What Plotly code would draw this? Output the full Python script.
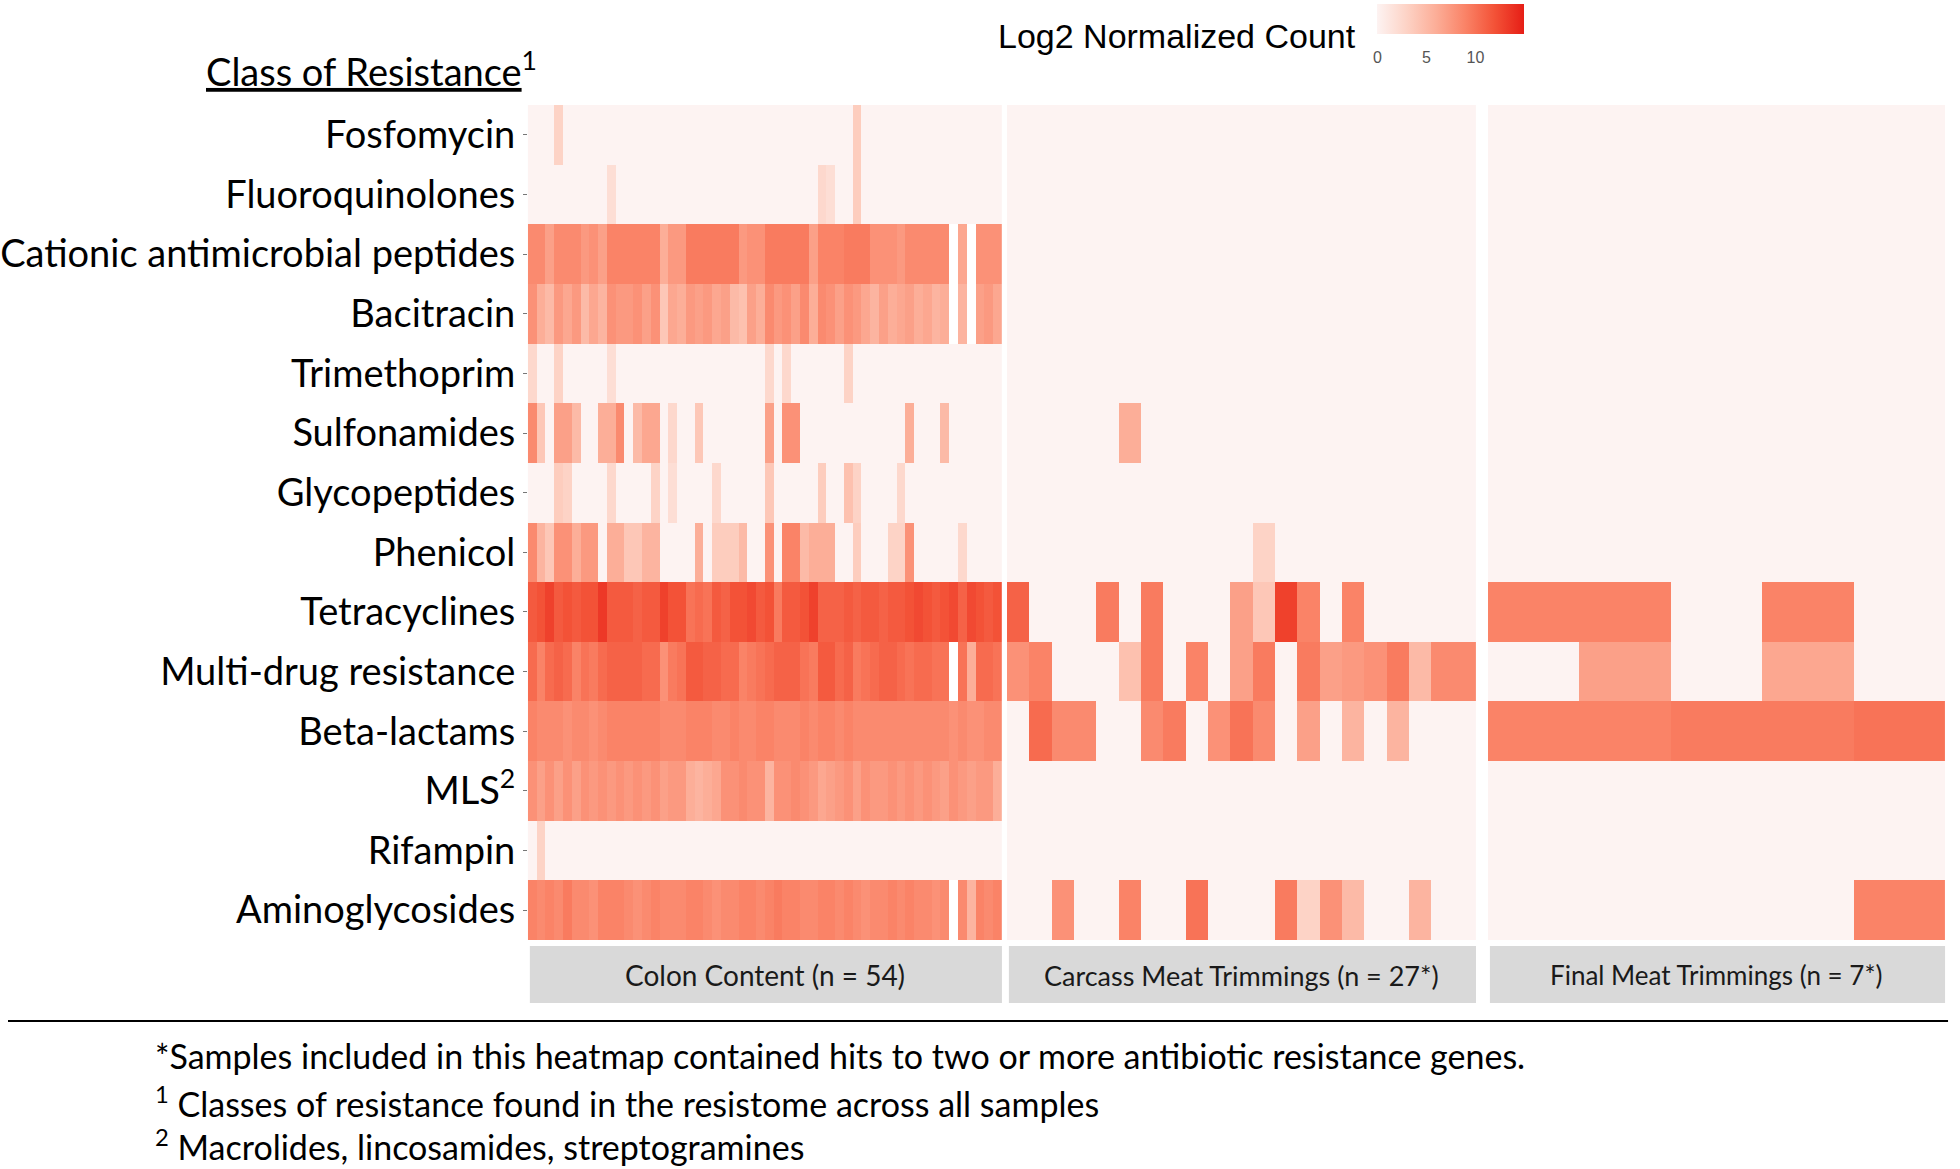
import plotly.graph_objects as go

W, H = 1960, 1169

classes = ["Fosfomycin", "Fluoroquinolones", "Cationic antimicrobial peptides", "Bacitracin",
           "Trimethoprim", "Sulfonamides", "Glycopeptides", "Phenicol", "Tetracyclines",
           "Multi-drug resistance", "Beta-lactams", "MLS", "Rifampin", "Aminoglycosides"]
class_labels = [c if c != "MLS" else "MLS<sup>2</sup>" for c in classes]

panels = ["Colon Content (n = 54)", "Carcass Meat Trimmings (n = 27*)", "Final Meat Trimmings (n = 7*)"]

N = None
# log2 normalized counts, one row per class (same order as classes), one column per sample
colon_counts = [
    [0, 0, 0, 3, 0, 0, 0, 0, 0, 0, 0, 0, 0, 0, 0, 0, 0, 0, 0, 0, 0, 0, 0, 0, 0, 0, 0, 0, 0, 0, 0, 0, 0, 0, 0, 0, 0, 3.5, 0, 0, 0, 0, 0, 0, 0, 0, 0, 0, 0, 0, 0, 0, 0, 0],
    [0, 0, 0, 0, 0, 0, 0, 0, 0, 2, 0, 0, 0, 0, 0, 0, 0, 0, 0, 0, 0, 0, 0, 0, 0, 0, 0, 0, 0, 0, 0, 0, 0, 2.5, 2, 0, 0, 3.5, 0, 0, 0, 0, 0, 0, 0, 0, 0, 0, 0, 0, 0, 0, 0, 0],
    [8.5, 8.5, 7, 8.5, 8.5, 8.5, 7.5, 8, 7, 9, 9, 9, 9, 9, 9, 6, 7.5, 7.5, 9.5, 9.5, 9.5, 9.5, 9.5, 9.5, 7.5, 8, 8, 9.5, 9.5, 9.5, 9.5, 9.5, 7, 9, 9, 9, 9.5, 9.5, 9.5, 8, 8, 8, 7.5, 8.5, 8.5, 8.5, 8.5, 8.5, N, 6.5, N, 8, 8, 8],
    [8, 6, 5, 7.5, 6.5, 7.5, 5, 6.5, 5.5, 8, 7.5, 7.5, 8, 7, 8, 4, 6.5, 6, 7.5, 7, 7.5, 6.5, 7, 5, 4.5, 7, 6, 8.5, 7.5, 8, 7, 8.5, 6, 8.5, 8, 7, 8, 7.5, 6.5, 5.5, 7, 6, 6.5, 7, 6, 6.5, 5.5, 6, N, 5.5, N, 7, 7.5, 6.5],
    [2.5, 0, 0, 3, 0, 0, 0, 0, 0, 2, 0, 0, 0, 0, 0, 0, 0, 0, 0, 0, 0, 0, 0, 0, 0, 0, 0, 2.5, 0, 2.5, 0, 0, 0, 0, 0, 0, 3, 0, 0, 0, 0, 0, 0, 0, 0, 0, 0, 0, 0, 0, 0, 0, 0, 0],
    [8.5, 4, 0, 7, 7, 5, 0, 0, 6, 6, 8.5, 0, 5, 6.5, 6.5, 0, 2.5, 0, 0, 4, 0, 0, 0, 0, 0, 0, 0, 7, 0, 8, 8, 0, 0, 0, 0, 0, 0, 0, 0, 0, 0, 0, 0, 6, 0, 0, 0, 5, 0, 0, 0, 0, 0, 0],
    [0, 0, 0, 3.5, 3, 0, 0, 0, 0, 2.5, 0, 0, 0, 0, 3, 0, 2, 0, 0, 0, 0, 2.5, 0, 0, 0, 0, 0, 4, 0, 0, 0, 0, 0, 3.5, 0, 0, 4.5, 3, 0, 0, 0, 0, 2.5, 0, 0, 0, 0, 0, 0, 0, 0, 0, 0, 0],
    [8.5, 5.5, 4, 8, 8, 6, 7.5, 7.5, 0, 6, 6, 4, 4, 5.5, 5.5, 0, 0, 0, 0, 6, 0, 3.5, 3.5, 3.5, 5, 0, 0, 8, 0, 9, 9, 5, 6, 6, 6, 0, 0, 3.5, 0, 0, 0, 3, 3, 8, 0, 0, 0, 0, 0, 2.5, 0, 0, 0, 0],
    [11.5, 12, 13, 11.5, 12, 11.5, 12, 12, 13.5, 11.5, 11.5, 11.5, 11, 11.5, 11.5, 13, 12, 12, 10, 10.5, 10, 11.5, 11, 12, 12, 12.5, 11.5, 12, 9.5, 11.5, 11.5, 12, 13, 11, 11, 11, 11.5, 11, 11.5, 11.5, 11, 11.5, 11.5, 12, 12.5, 12, 11.5, 12, 12.5, 11, 12.5, 12, 11.5, 12],
    [10.5, 9, 10.5, 11, 10.5, 9, 10, 9.5, 10.5, 11, 11, 11, 11, 10.5, 10.5, 8, 9.5, 10, 11.5, 11.5, 11, 11, 10.5, 10.5, 9, 9.5, 10, 10.5, 11, 11, 11, 10, 9.5, 11.5, 11.5, 10.5, 11, 9.5, 10, 10.5, 11, 11, 10.5, 10, 10.5, 10.5, 10, 10, N, 10, 6, 10.5, 10.5, 10],
    [9, 8.5, 8.5, 8.5, 8, 8.5, 8.5, 8, 8.5, 9, 9, 9, 9, 9, 9, 8.5, 8.5, 8.5, 9, 9, 9, 8.5, 8.5, 9, 8.5, 8.5, 9, 9, 8.5, 8.5, 8.5, 9, 8.5, 9, 9, 8.5, 9, 8.5, 8.5, 8.5, 8.5, 8.5, 8.5, 8.5, 8.5, 8.5, 8.5, 8.5, 8, 8.5, 8, 8, 8.5, 8.5],
    [8, 7, 8, 7, 8, 7, 8, 7.5, 8, 7.5, 8, 7.5, 8, 7.5, 8, 7, 7.5, 7.5, 6, 5.5, 6, 6.5, 8, 8, 8.5, 8, 8, 5.5, 8, 8, 8.5, 8, 7.5, 6.5, 7, 7.5, 8, 7, 8, 7.5, 7.5, 8, 7.5, 8, 7.5, 8, 7.5, 7, 8, 7.5, 7, 7.5, 7.5, 6],
    [0, 3, 0, 0, 0, 0, 0, 0, 0, 0, 0, 0, 0, 0, 0, 0, 0, 0, 0, 0, 0, 0, 0, 0, 0, 0, 0, 0, 0, 0, 0, 0, 0, 0, 0, 0, 0, 0, 0, 0, 0, 0, 0, 0, 0, 0, 0, 0, 0, 0, 0, 0, 0, 0],
    [9, 8.5, 9, 8.5, 9.5, 8.5, 8.5, 8, 9, 9, 9, 8.5, 8, 8.5, 9, 8.5, 8.5, 8.5, 9, 9, 8.5, 8, 8.5, 8.5, 9, 9, 8.5, 9, 9.5, 9, 9, 8.5, 8.5, 9, 9, 8.5, 9, 8.5, 8, 8.5, 8.5, 9, 8.5, 9, 8.5, 8.5, 8, 8.5, N, 8.5, 5.5, 9, 8.5, 9],
]

carcass_counts = [
    [0] * 21,
    [0] * 21,
    [0] * 21,
    [0] * 21,
    [0] * 21,
    [0, 0, 0, 0, 0, 6, 0, 0, 0, 0, 0, 0, 0, 0, 0, 0, 0, 0, 0, 0, 0],
    [0] * 21,
    [0, 0, 0, 0, 0, 0, 0, 0, 0, 0, 0, 3, 0, 0, 0, 0, 0, 0, 0, 0, 0],
    [11, 0, 0, 0, 9.5, 0, 9.5, 0, 0, 0, 7, 4, 13, 9, 0, 9, 0, 0, 0, 0, 0],
    [8, 9, 0, 0, 0, 4.5, 9.5, 0, 9, 0, 7, 9.5, 0, 9.5, 7, 7.5, 8, 9.5, 5, 8.5, 8.5],
    [0, 10.5, 8.5, 8.5, 0, 0, 8.5, 9.5, 0, 8, 10, 8.5, 0, 7, 0, 5.5, 0, 5.5, 0, 0, 0],
    [0] * 21,
    [0] * 21,
    [0, 0, 8, 0, 0, 9, 0, 0, 10, 0, 0, 0, 9.5, 3, 8, 5, 0, 0, 5.5, 0, 0],
]

final_counts = [
    [0, 0, 0, 0, 0],
    [0, 0, 0, 0, 0],
    [0, 0, 0, 0, 0],
    [0, 0, 0, 0, 0],
    [0, 0, 0, 0, 0],
    [0, 0, 0, 0, 0],
    [0, 0, 0, 0, 0],
    [0, 0, 0, 0, 0],
    [9, 9, 0, 9, 0],
    [0, 7, 0, 6.5, 0],
    [9, 9, 9.5, 9.5, 10],
    [0, 0, 0, 0, 0],
    [0, 0, 0, 0, 0],
    [0, 0, 0, 0, 9],
]

colorbar_ticks = [0, 5, 10]

reds = [[0.0, '#fdf3f2'], [0.2, '#fdd3c6'], [0.4, '#fcae98'],
        [0.6, '#fa8367'], [0.8, '#f35237'], [1.0, '#e61e16']]


def fx(p):
    return p / W


def fy(p):
    return 1 - p / H


# pixel extents of the three facets
panel_px = [(522, 998), (1003, 1474), (1486, 1945)]
top_px, bottom_px = 105, 940

fig = go.Figure()
for i, z in enumerate([colon_counts, carcass_counts, final_counts]):
    fig.add_trace(go.Heatmap(
        z=z,
        x=list(range(len(z[0]))),
        y=classes,
        coloraxis='coloraxis',
        xaxis='x' if i == 0 else f'x{i + 1}',
        yaxis='y',
        hoverongaps=False,
        hovertemplate='%{y}<br>%{z}<extra></extra>'
    ))

lato = "Lato, Open Sans, sans-serif"

layout = dict(
    width=W, height=H,
    margin=dict(l=0, r=0, t=0, b=0),
    paper_bgcolor='white',
    plot_bgcolor='white',
    yaxis=dict(
        domain=[fy(bottom_px), fy(top_px)],
        categoryorder='array', categoryarray=classes,
        autorange='reversed',
        tickmode='array', tickvals=classes, ticktext=class_labels,
        ticks='outside', ticklen=4, tickcolor='#777', tickwidth=1,
        tickfont=dict(family=lato, size=38, color='black'),
        showgrid=False, zeroline=False, showline=False,
    ),
    coloraxis=dict(
        colorscale=reds, cmin=0, cmax=15,
        colorbar=dict(
            orientation='h',
            x=fx(1375), xanchor='left',
            y=fy(4), yanchor='top',
            lenmode='pixels', len=147,
            thickness=30,
            outlinewidth=0,
            tickvals=colorbar_ticks,
            ticks='outside', ticklen=10, tickcolor='rgba(0,0,0,0)',
            tickfont=dict(family="Liberation Sans, Arial", size=16, color='#555'),
            xpad=0, ypad=0,
        ),
    ),
)
for i, (x0, x1) in enumerate(panel_px):
    key = 'xaxis' if i == 0 else f'xaxis{i + 1}'
    layout[key] = dict(domain=[fx(x0), fx(x1)], visible=False, showgrid=False,
                       zeroline=False, anchor='y')
fig.update_layout(**layout)

# facet strips
strip_sizes = [28, 27, 26]
for (x0, x1), label, fs in zip(panel_px, panels, strip_sizes):
    fig.add_shape(type='rect', xref='paper', yref='paper',
                  x0=fx(x0 + 2), x1=fx(x1), y0=fy(1003), y1=fy(946),
                  fillcolor='#d9d9d9', line=dict(width=0), layer='below')
    fig.add_annotation(x=fx((x0 + x1) / 2), y=fy(975), xref='paper', yref='paper',
                       xanchor='center', yanchor='middle',
                       text=label, showarrow=False,
                       font=dict(family=lato, size=fs, color='#1a1a1a'))

# separator line above the footnotes
fig.add_shape(type='line', xref='paper', yref='paper',
              x0=0, x1=fx(1948), y0=fy(1021), y1=fy(1021),
              line=dict(color='black', width=2))

fig.add_annotation(x=fx(533), y=fy(69), xref='paper', yref='paper',
                   xanchor='right', yanchor='middle', showarrow=False,
                   text='<u>Class of Resistance</u><sup>1</sup>',
                   font=dict(family=lato, size=38, color='black'))

fig.add_annotation(x=fx(1356), y=fy(36), xref='paper', yref='paper',
                   xanchor='right', yanchor='middle', showarrow=False,
                   text='Log2 Normalized Count',
                   font=dict(family="Liberation Sans, Arial", size=34, color='black'))

footnotes = [
    "*Samples included in this heatmap contained hits to two or more antibiotic resistance genes.",
    "<sup>1</sup> Classes of resistance found in the resistome across all samples",
    "<sup>2</sup> Macrolides, lincosamides, streptogramines",
]
for txt, yp in zip(footnotes, [1055, 1102, 1145]):
    fig.add_annotation(x=fx(146), y=fy(yp), xref='paper', yref='paper',
                       xanchor='left', yanchor='middle', showarrow=False,
                       text=txt, font=dict(family=lato, size=34, color='black'))

fig.write_html("out.html", config={'displayModeBar': False},
               post_script="document.body.style.margin='0';document.body.style.overflow='hidden';")
